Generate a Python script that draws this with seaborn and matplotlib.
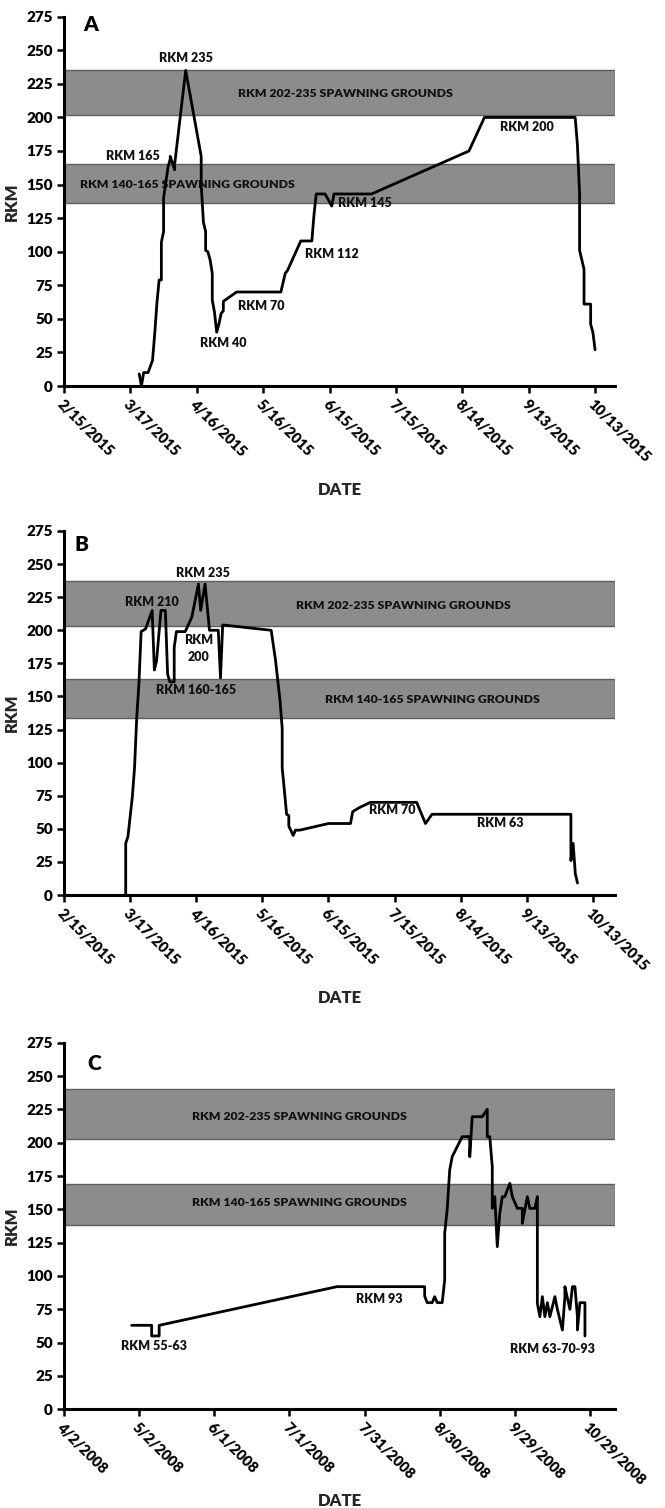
import matplotlib
matplotlib.use("Agg")
import matplotlib.pyplot as plt
import matplotlib.dates as mdates
from matplotlib.ticker import FuncFormatter, MultipleLocator
import pandas as pd
import seaborn as sns

# ---------------- data ----------------
# Panel A: fish tracked 2015
a_dates = ["2015-03-21", "2015-03-22", "2015-03-23", "2015-03-25", "2015-03-27",
           "2015-03-28", "2015-03-29", "2015-03-30", "2015-03-31", "2015-03-31",
           "2015-04-01", "2015-04-01", "2015-04-03", "2015-04-04", "2015-04-04",
           "2015-04-06", "2015-04-06", "2015-04-11", "2015-04-18", "2015-04-18",
           "2015-04-19", "2015-04-20", "2015-04-20", "2015-04-21", "2015-04-22",
           "2015-04-23", "2015-04-23", "2015-04-24", "2015-04-25", "2015-04-26",
           "2015-04-27", "2015-04-28", "2015-04-28", "2015-05-04", "2015-05-24",
           "2015-05-26", "2015-05-27", "2015-06-02", "2015-06-07", "2015-06-08",
           "2015-06-09", "2015-06-13", "2015-06-16", "2015-06-17", "2015-07-04",
           "2015-08-17", "2015-08-24", "2015-10-04", "2015-10-05", "2015-10-06",
           "2015-10-06", "2015-10-08", "2015-10-08", "2015-10-11", "2015-10-11",
           "2015-10-12", "2015-10-13"]
a_rkm = [9, 0, 10, 10, 19,
         39, 62, 79, 79, 107,
         115, 140, 163, 169, 171,
         161, 165, 235, 171, 150,
         122, 115, 101, 100, 94,
         84, 64, 55, 40, 46,
         54, 56, 63, 70, 70,
         84, 86, 108, 108, 128,
         143, 143, 134, 143, 143,
         175, 200, 200, 180, 143,
         101, 87, 61, 61, 46,
         40, 27]

# Panel B: fish tracked 2015
b_dates = ["2015-03-15", "2015-03-15", "2015-03-16", "2015-03-18", "2015-03-19",
           "2015-03-20", "2015-03-21", "2015-03-22", "2015-03-24", "2015-03-27",
           "2015-03-28", "2015-03-29", "2015-03-31", "2015-04-02", "2015-04-03",
           "2015-04-04", "2015-04-06", "2015-04-06", "2015-04-07", "2015-04-11",
           "2015-04-14", "2015-04-17", "2015-04-18", "2015-04-20", "2015-04-22",
           "2015-04-26", "2015-04-27", "2015-04-28", "2015-05-20", "2015-05-22",
           "2015-05-23", "2015-05-24", "2015-05-25", "2015-05-25", "2015-05-26",
           "2015-05-27", "2015-05-28", "2015-05-28", "2015-05-30", "2015-05-31",
           "2015-06-02", "2015-06-15", "2015-06-25", "2015-06-26", "2015-06-29",
           "2015-07-04", "2015-07-25", "2015-07-29", "2015-08-01", "2015-10-03",
           "2015-10-03", "2015-10-04", "2015-10-05", "2015-10-06"]
b_rkm = [0, 39, 44, 74, 96,
         134, 160, 199, 201, 215,
         170, 177, 215, 215, 167,
         161, 161, 187, 199, 199,
         210, 235, 215, 235, 200,
         200, 164, 204, 200, 177,
         162, 147, 126, 96, 79,
         61, 60, 52, 45, 49,
         49, 54, 54, 63, 66,
         70, 70, 54, 61, 61,
         26, 39, 16, 9]

# Panel C: fish tracked 2008
c_dates = ["2008-04-29", "2008-05-07", "2008-05-07", "2008-05-10", "2008-05-10",
           "2008-07-20", "2008-08-24", "2008-08-24", "2008-08-25", "2008-08-27",
           "2008-08-28", "2008-08-29", "2008-08-31", "2008-09-01", "2008-09-01",
           "2008-09-02", "2008-09-03", "2008-09-04", "2008-09-08", "2008-09-11",
           "2008-09-11", "2008-09-12", "2008-09-16", "2008-09-18", "2008-09-18",
           "2008-09-19", "2008-09-20", "2008-09-20", "2008-09-21", "2008-09-22",
           "2008-09-23", "2008-09-24", "2008-09-25", "2008-09-27", "2008-09-28",
           "2008-09-30", "2008-10-02", "2008-10-02", "2008-10-04", "2008-10-05",
           "2008-10-07", "2008-10-08", "2008-10-08", "2008-10-09", "2008-10-10",
           "2008-10-11", "2008-10-12", "2008-10-13", "2008-10-15", "2008-10-16",
           "2008-10-18", "2008-10-19", "2008-10-19", "2008-10-21", "2008-10-22",
           "2008-10-23", "2008-10-24", "2008-10-24", "2008-10-25", "2008-10-27",
           "2008-10-27"]
c_rkm = [63, 63, 55, 55, 63,
         92, 92, 85, 80, 80,
         84.5, 80, 80, 97, 132,
         150, 179.5, 189.5, 204.5, 204.5,
         189.5, 219.5, 219.5, 225, 204.5,
         204.5, 182, 150.75, 159.5, 122,
         147, 159.5, 159.5, 169.5, 159.5,
         150.75, 150.75, 139.5, 159.5, 150.75,
         150.75, 159.5, 79.5, 69.5, 84.5,
         69.5, 80, 69.5, 84.5, 75,
         59.5, 84.5, 92, 75, 92,
         92, 69.5, 59.5, 80, 80,
         55]

# spawning-ground bands (lower, upper edges in RKM)
a_bands = [(136, 165), (202, 235.5)]
b_bands = [(134, 163), (203, 237)]
c_bands = [(138, 169), (203, 240)]
band_labels = ["RKM 140-165 SPAWNING GROUNDS", "RKM 202-235 SPAWNING GROUNDS"]

# x-axis tick dates
ab_ticks = ["2015-02-15", "2015-03-17", "2015-04-16", "2015-05-16", "2015-06-15",
            "2015-07-15", "2015-08-14", "2015-09-13", "2015-10-13"]
c_ticks = ["2008-04-02", "2008-05-02", "2008-06-01", "2008-07-01", "2008-07-31",
           "2008-08-30", "2008-09-29", "2008-10-29"]

# x-axis limits
a_xlim = ("2015-02-15", "2015-10-22")
b_xlim = ("2015-02-15", "2015-10-23")
c_xlim = ("2008-04-02", "2008-11-08")

# annotations: (text, date, rkm)
a_notes = [("RKM 235", "2015-04-11", 244), ("RKM 165", "2015-03-18", 171),
           ("RKM 200", "2015-09-12", 192.5), ("RKM 145", "2015-07-01", 136),
           ("RKM 112", "2015-06-16", 98), ("RKM 70", "2015-05-15", 59.4),
           ("RKM 40", "2015-04-28", 31.7)]
a_band_pos = [("2015-04-12", 150), ("2015-06-22", 218)]

b_notes = [("RKM 235", "2015-04-19", 243), ("RKM 210", "2015-03-27", 221),
           ("RKM\n200", "2015-04-17", 186), ("RKM 160-165", "2015-04-16", 154.5),
           ("RKM 70", "2015-07-14", 64), ("RKM 63", "2015-09-01", 54.4)]
b_band_pos = [("2015-08-01", 147.5), ("2015-07-19", 219)]

c_notes = [("RKM 55-63", "2008-05-08", 47.5), ("RKM 93", "2008-08-06", 83),
           ("RKM 63-70-93", "2008-10-14", 45)]
c_band_pos = [("2008-07-05", 155), ("2008-07-05", 219.5)]

letters = [("A", "2015-02-27", 269), ("B", "2015-02-23", 265), ("C", "2008-04-14", 259.5)]

# ---------------- style ----------------
sns.set_style("ticks")
plt.rcParams["font.family"] = ["Lato", "DejaVu Sans"]
plt.rcParams["font.weight"] = "heavy"

fig = plt.figure(figsize=(6.65, 15.08), dpi=100)
W, H = 665.0, 1508.0
left_px, right_px = 64, 615
# (top, bottom, x-label offset) in pixels
panels = [
    (16.7, 386.0, 96.0),
    (531.0, 895.0, 95.0),
    (1042.7, 1409.3, 84.0),
]

WEIGHT = "heavy"
NOTE_FS = 9.0
BAND_FS = 8.8
TICK_FS = 10.5


def make_axes(top, bottom):
    return fig.add_axes([left_px / W, 1 - bottom / H,
                         (right_px - left_px) / W, (bottom - top) / H])


def fmt_date(x, pos=None):
    d = mdates.num2date(x)
    return f"{d.month}/{d.day}/{d.year}"


def draw_panel(ax, xlab_off, dates, rkm, bands, band_pos, notes, ticks, xlim, letter):
    for (lo, hi) in bands:
        ax.axhspan(lo, hi, facecolor="#8c8c8c", edgecolor="#5e5e5e", lw=1.0, zorder=1)
    for (txt, (d, y)) in zip(band_labels, band_pos):
        ax.text(mdates.date2num(pd.Timestamp(d)), y, txt, ha="center", va="center",
                fontsize=BAND_FS, fontweight=WEIGHT, color="#111111", zorder=2)
    df = pd.DataFrame({"date": pd.to_datetime(dates), "rkm": rkm})
    sns.lineplot(data=df, x="date", y="rkm", sort=False, estimator=None,
                 color="black", lw=2.0, ax=ax, zorder=3)
    for (txt, d, y) in notes:
        ax.text(mdates.date2num(pd.Timestamp(d)), y, txt, ha="center", va="center",
                fontsize=NOTE_FS, fontweight=WEIGHT, color="#111111", zorder=4,
                linespacing=1.5)
    lt, ld, ly = letter
    ax.text(mdates.date2num(pd.Timestamp(ld)), ly, lt, ha="center", va="center",
            fontsize=15, fontweight=WEIGHT, color="black")

    ax.set_ylim(0, 275)
    ax.set_xlim(pd.Timestamp(xlim[0]), pd.Timestamp(xlim[1]))
    ax.yaxis.set_major_locator(MultipleLocator(25))
    ax.set_xticks(pd.to_datetime(ticks))
    ax.xaxis.set_major_formatter(FuncFormatter(fmt_date))
    ax.tick_params(axis="both", direction="out", length=5, width=1.8,
                   colors="black")
    ax.tick_params(axis="y", pad=3)
    ax.tick_params(axis="x", pad=3)
    plt.setp(ax.get_xticklabels(), rotation=-45, ha="left", va="top",
             rotation_mode="anchor", fontweight=WEIGHT, fontsize=TICK_FS)
    plt.setp(ax.get_yticklabels(), fontweight=WEIGHT, fontsize=11)
    for side in ("top", "right"):
        ax.spines[side].set_visible(False)
    for side in ("left", "bottom"):
        ax.spines[side].set_linewidth(2.2)
        ax.spines[side].set_color("black")
    ax.set_xlabel("DATE", fontsize=12, fontweight=WEIGHT)
    ax.set_ylabel("RKM", fontsize=12, fontweight=WEIGHT)
    h = ax.get_position().height * H
    w = ax.get_position().width * W
    ax.xaxis.set_label_coords(0.5, -xlab_off / h)
    ax.yaxis.set_label_coords(-44.0 / w, 0.5)


specs = [
    (a_dates, a_rkm, a_bands, a_band_pos, a_notes, ab_ticks, a_xlim, letters[0]),
    (b_dates, b_rkm, b_bands, b_band_pos, b_notes, ab_ticks, b_xlim, letters[1]),
    (c_dates, c_rkm, c_bands, c_band_pos, c_notes, c_ticks, c_xlim, letters[2]),
]
for (top, bottom, off), spec in zip(panels, specs):
    ax = make_axes(top, bottom)
    draw_panel(ax, off, *spec)

fig.savefig("out.png", dpi=100)
